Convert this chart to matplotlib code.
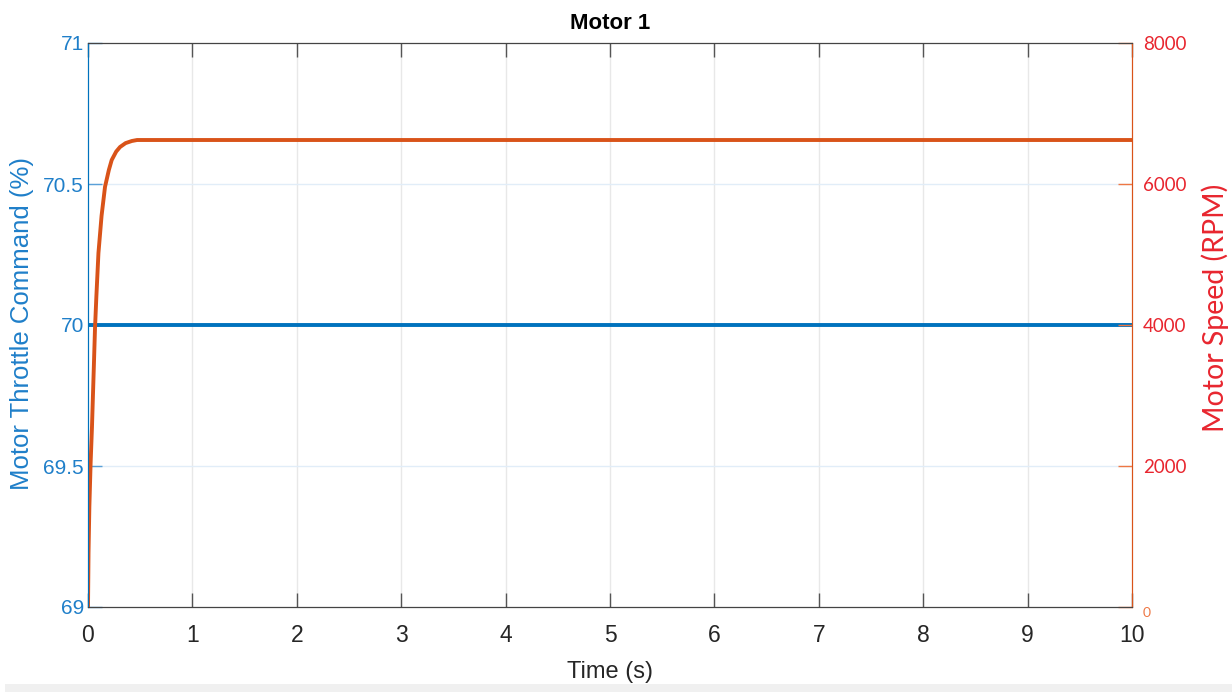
import numpy as np
import matplotlib
matplotlib.use('Agg')
import matplotlib.pyplot as plt
from matplotlib.patches import Rectangle

# data
t_throttle = [0, 10]
throttle = [70, 70]

t_speed = [0, 0.005, 0.013, 0.025, 0.038, 0.048, 0.057, 0.067, 0.08, 0.10,
           0.13, 0.163, 0.20, 0.227, 0.27, 0.307, 0.36, 0.42, 0.47, 10]
speed = [0, 770, 1420, 2040, 2550, 3030, 3460, 3950, 4400, 5020,
         5550, 5960, 6200, 6340, 6460, 6525, 6580, 6610, 6624, 6624]

x_ticks = list(range(0, 11))
left_ticks = [69, 69.5, 70, 70.5, 71]
left_labels = ['69', '69.5', '70', '70.5', '71']
right_ticks = [0, 2000, 4000, 6000, 8000]

blue = '#0072BD'
orange = '#D95319'
red = '#E8262F'
arial = 'Liberation Sans'

fig = plt.figure(figsize=(12.32, 6.92), dpi=100)
ax = fig.add_axes([88/1232, 1-607/692, (1132-88)/1232, (607-43)/692])
ax2 = ax.twinx()

ax.plot(t_throttle, throttle, color=blue, lw=2.8, solid_capstyle='butt')
ax2.plot(t_speed, speed, color=orange, lw=2.8)

ax.set_xlim(0, 10)
ax.set_ylim(69, 71)
ax2.set_ylim(0, 8000)

ax.set_xticks(x_ticks)
ax.set_xticklabels([str(v) for v in x_ticks], fontsize=16.5, family=arial, color='#262626')
ax.set_yticks(left_ticks)
ax.set_yticklabels(left_labels, fontsize=15, family=arial, color='#1f7fc9')
ax2.set_yticks(right_ticks)
labels = ax2.set_yticklabels(['0', '2000', '4000', '6000', '8000'], fontsize=13.5, family='Lato', color=red)
labels[0].set_fontsize(10)
labels[0].set_color('#EE7744')
labels[0].set_verticalalignment('top')

# grid
for xv in x_ticks[1:-1]:
    ax.axvline(xv, color='#e8e8e8', lw=1, zorder=0)
for yv in [69.5, 70.5]:
    ax.axhline(yv, color='#e1edf8', lw=1, zorder=0)

ax.tick_params(axis='x', direction='in', length=10, width=1, color='#555555', pad=12, top=True)
ax.tick_params(axis='y', direction='in', length=10, width=1, color='#5aa0d8', pad=3)
ax2.tick_params(axis='y', direction='in', length=10, width=1, color='#ee7744', pad=8)

for sp in ['top', 'bottom']:
    ax2.spines[sp].set_color('#444444')
ax2.spines['left'].set_color(blue)
ax2.spines['right'].set_color(orange)
ax.spines['left'].set_color(blue)
ax.spines['right'].set_color(orange)

ax.set_title('Motor 1', fontsize=16, fontweight='bold', family=arial, pad=10)
ax.set_xlabel('Time (s)', fontsize=17, family=arial, color='#262626', labelpad=10)
ax.set_ylabel('Motor Throttle Command (%)', fontsize=18.5, family=arial, color='#1f7fc9',
              va='center')
ax.yaxis.set_label_coords((22-88)/1044, (607-324)/564)
ax2.set_ylabel('Motor Speed (RPM)', fontsize=20.5, family='Lato', color=red, va='center')
ax2.yaxis.set_label_coords((1215-88)/1044, (607-308)/564)

fig.patches.append(Rectangle((5/1232, 0), 1, 8/692, transform=fig.transFigure,
                             facecolor='#f0f0f0', edgecolor='none'))

fig.savefig('out.png', dpi=100)
